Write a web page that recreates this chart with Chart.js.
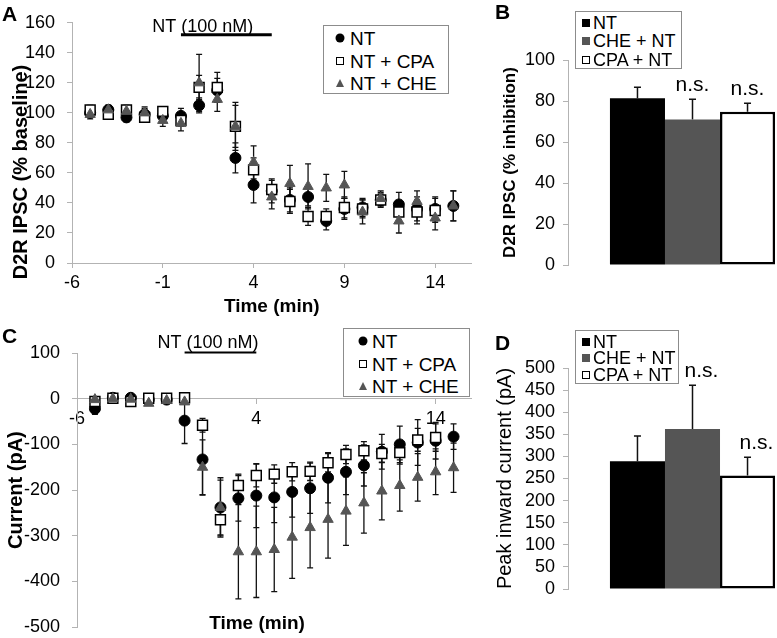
<!DOCTYPE html>
<html>
<head>
<meta charset="utf-8">
<script src="https://cdn.jsdelivr.net/npm/chart.js@4.4.1/dist/chart.umd.min.js"></script>
<style>
  html, body { margin: 0; padding: 0; background: #fff; }
  body { width: 777px; height: 638px; overflow: hidden; position: relative;
         font-family: "Liberation Sans", Arial, sans-serif; color: #000; }
  .panel { position: absolute; }
  .letter { position: absolute; font-weight: bold; font-size: 21px; line-height: 1; }
  .legend { position: absolute; border: 1px solid #8c8c8c; background: #fff; box-sizing: border-box; }
  .legend span { position: absolute; line-height: 1; white-space: nowrap; }
  .mk { transform: translate(-50%, -50%); box-sizing: border-box; }
  .txt { transform: translateY(-50%); }
  .dot { width: 9px; height: 9px; border-radius: 50%; background: #000; }
  .sqo { width: 8px; height: 8px; border: 1.3px solid #000; background: #fff; }
  .tri { width: 0; height: 0; border-left: 4.5px solid transparent; border-right: 4.5px solid transparent; border-bottom: 8px solid #555; }
  .sqk { width: 8px; height: 8px; background: #000; }
  .sqg { width: 8px; height: 8px; background: #555; }
  .sqw { width: 8px; height: 8px; border: 1.6px solid #000; background: #fff; }
  .title { position: absolute; font-weight: bold; font-size: 20px; white-space: nowrap; line-height: 1; }
</style>
</head>
<body>
<div class="panel" style="left:0;top:0;width:480px;height:320px"><canvas id="chartA"></canvas></div>
<div class="panel" style="left:440px;top:0;width:377px;height:300px"><canvas id="chartB"></canvas></div>
<div class="panel" style="left:0;top:320px;width:480px;height:330px"><canvas id="chartC"></canvas></div>
<div class="panel" style="left:440px;top:320px;width:377px;height:318px"><canvas id="chartD"></canvas></div>

<div class="letter" style="left:2px;top:3px">A</div>
<div class="letter" style="left:495px;top:1px">B</div>
<div class="letter" style="left:2px;top:325px">C</div>
<div class="letter" style="left:495px;top:332px">D</div>

<div class="title" style="left:20px;top:172px;transform:translate(-50%,-50%) rotate(-90deg)">D2R IPSC (% baseline)</div>
<div class="title" style="left:257px;top:622px;transform:translate(-50%,-50%);font-size:19px">Time (min)</div>

<div id="legA" class="legend" style="left:323px;top:25px;width:126px;height:69px"></div>
<div id="legB" class="legend" style="left:575px;top:11px;width:107px;height:58px"></div>
<div id="legC" class="legend" style="left:343px;top:328px;width:127px;height:69px"></div>
<div id="legD" class="legend" style="left:575px;top:330px;width:104px;height:54px"></div>

<script>
//  data
const timeAll = [-5, -4, -3, -2, -1, 0, 1, 2, 3, 4, 5, 6, 7, 8, 9, 10, 11, 12, 13, 14, 15];
const timeTicksA = [-6, -1, 4, 9, 14];
const timeTicksC = [-6, 4, 14];
const seriesNames = ['NT', 'NT + CPA', 'NT + CHE'];
const barNames = ['NT', 'CHE + NT', 'CPA + NT'];

// panel A, D2R IPSC (% baseline)
const ipscNT     = [100, 102, 97, 99, 98, 98, 105, 115, 70, 52, 48, 42, 44, 28, 36, 37, 42, 39, 36, 36, 38];
const ipscNTerr  = [3, 3, 3, 4, 4, 5, 5, 8, 10, 12, 8, 8, 6, 6, 7, 6, 4, 8, 8, 8, 10];
const ipscCPA    = [102, 99, 102, 97, 101, 95, 117, 117, 91, 62, 49, 41, 31, 31, 37, 36, 42, 34, 34, 35];
const ipscCPAerr = [3, 3, 3, 3, 3, 4, 8, 10, 16, 8, 6, 8, 6, 5, 7, 6, 5, 7, 8, 8];
const ipscCHE    = [99, 102, 101, 100, 95, 93, 120, 109, 91, 67, 44, 53, 51, 50, 52, 34, 43, 28, 41, 30, 38];
const ipscCHEerr = [3, 3, 3, 4, 4, 5, 19, 8, 14, 11, 8, 12, 15, 9, 9, 8, 5, 8, 7, 8, 10];

// panel C, current (pA)
const currNT     = [-22, 2, 2, -2, -2, -48, -133, -238, -218, -212, -216, -204, -196, -173, -160, -146, -116, -100, -96, -92, -83];
const currNTerr  = [12, 3, 3, 3, 3, 50, 78, 60, 50, 70, 55, 55, 55, 55, 50, 45, 38, 40, 50, 40, 28];
const currCPA    = [-6, 1, -6, 1, 1, 2, -58, -265, -190, -168, -165, -160, -159, -140, -122, -114, -120, -118, -90, -85];
const currCPAerr = [5, 3, 3, 3, 3, 3, 15, 35, 25, 25, 20, 20, 20, 20, 20, 20, 20, 25, 25, 30];
const currCHE    = [-2, 0, -1, -10, -4, -7, -150, -238, -335, -335, -330, -303, -282, -264, -246, -228, -202, -190, -172, -160, -151];
const currCHEerr = [5, 3, 3, 3, 3, 5, 60, 65, 103, 100, 92, 90, 88, 85, 75, 66, 63, 56, 52, 50, 54];

// panels B and D
const inhibMean = [81.3, 71, 74.8];
const inhibErr  = [5.4, 9.8, 4.1];
const peakMean  = [289, 362, 257];
const peakErr   = [57, 99, 41];
const sigLabels = ['', 'n.s.', 'n.s.'];
//  data

const font_family = '"Liberation Sans", Arial, sans-serif';
Chart.defaults.font.family = font_family;
Chart.defaults.color = '#000';
Chart.defaults.animation = false;
const axis_grey = '#b3b3b3';

// error bars from the dataset's errorBars array
const errorBarPlugin = {
  id: 'errorBars',
  beforeDatasetsDraw(chart) {
    const ctx = chart.ctx;
    const yScale = chart.scales.y;
    ctx.save();
    ctx.strokeStyle = '#111';
    chart.data.datasets.forEach((ds, i) => {
      if (!ds.errorBars) return;
      const meta = chart.getDatasetMeta(i);
      ctx.lineWidth = ds.errWidth || 1.3;
      meta.data.forEach((el, j) => {
        const raw = ds.data[j];
        const v = typeof raw === 'object' ? raw.y : raw;
        const e = ds.errorBars[j];
        const cap = ds.capHalf || 3;
        const top = yScale.getPixelForValue(v + e);
        const bot = ds.upOnly ? el.y : yScale.getPixelForValue(v - e);
        ctx.beginPath();
        ctx.moveTo(el.x, top);
        ctx.lineTo(el.x, bot);
        ctx.moveTo(el.x - cap, top);
        ctx.lineTo(el.x + cap, top);
        if (!ds.upOnly) {
          ctx.moveTo(el.x - cap, bot);
          ctx.lineTo(el.x + cap, bot);
        }
        ctx.stroke();
      });
    });
    ctx.restore();
  }
};

// "n.s." above the error bar of a bar
const sigPlugin = {
  id: 'sigLabels',
  afterDatasetsDraw(chart, args, opts) {
    const ctx = chart.ctx;
    const yScale = chart.scales.y;
    const dx = opts.dx || 0;
    ctx.save();
    ctx.font = '21px ' + font_family;
    ctx.fillStyle = '#000';
    ctx.textAlign = 'center';
    ctx.textBaseline = 'alphabetic';
    chart.data.datasets.forEach((ds, i) => {
      if (!ds.sig) return;
      const el = chart.getDatasetMeta(i).data[0];
      const top = yScale.getPixelForValue(ds.data[0] + ds.errorBars[0]);
      ctx.fillText(ds.sig, el.x + dx, top - 8);
    });
    ctx.restore();
  }
};

// drug application bar with its label
const drugLinePlugin = {
  id: 'drugLine',
  afterDraw(chart, args, opts) {
    const ctx = chart.ctx;
    const x = chart.scales.x;
    const y = chart.scales.y;
    const py = y.getPixelForValue(opts.level);
    ctx.save();
    ctx.strokeStyle = '#000';
    ctx.lineWidth = opts.lineWidth;
    ctx.beginPath();
    ctx.moveTo(x.getPixelForValue(opts.from), py);
    ctx.lineTo(x.getPixelForValue(opts.to), py);
    ctx.stroke();
    ctx.font = '18px ' + font_family;
    ctx.fillStyle = '#000';
    ctx.textAlign = 'center';
    ctx.textBaseline = 'middle';
    ctx.fillText(opts.text, x.getPixelForValue(opts.textAt), py - opts.gap);
    ctx.restore();
  }
};

function toPoints(xs, ys) {
  return ys.map((v, i) => ({x: xs[i], y: v}));
}

function scatterSets(nt, ntErr, cpa, cpaErr, che, cheErr) {
  return [
    {label: seriesNames[0], data: toPoints(timeAll, nt), errorBars: ntErr, order: 3,
     pointStyle: 'circle', pointRadius: 5.5, backgroundColor: '#000', borderColor: '#000', borderWidth: 1},
    {label: seriesNames[1], data: toPoints(timeAll, cpa), errorBars: cpaErr, order: 2,
     pointStyle: 'rect', pointRadius: 7, backgroundColor: '#fff', borderColor: '#000', borderWidth: 1.5},
    {label: seriesNames[2], data: toPoints(timeAll, che), errorBars: cheErr, order: 1,
     pointStyle: 'triangle', pointRadius: 6, backgroundColor: '#555', borderColor: '#555', borderWidth: 1}
  ];
}

function barSets(means, errs) {
  const fills = ['#000', '#555', '#fff'];
  return barNames.map((name, i) => ({
    label: name,
    data: [means[i]],
    errorBars: [errs[i]],
    upOnly: true,
    capHalf: 3.5,
    errWidth: 1.5,
    sig: sigLabels[i],
    backgroundColor: fills[i],
    borderColor: '#000',
    borderWidth: i === 2 ? 2.5 : 0,
    borderSkipped: false,
    categoryPercentage: 0.663,
    barPercentage: 1
  }));
}

function axisLook() {
  return {
    border: {color: axis_grey, width: 1},
    grid: {drawOnChartArea: false, drawTicks: true, tickLength: 5, color: axis_grey}
  };
}

// A
new Chart(document.getElementById('chartA'), {
  type: 'scatter',
  data: {datasets: scatterSets(ipscNT, ipscNTerr, ipscCPA, ipscCPAerr, ipscCHE, ipscCHEerr)},
  options: {
    responsive: true, maintainAspectRatio: false, events: [],
    layout: {padding: {top: 21, right: 3, left: 0, bottom: 0}},
    plugins: {legend: {display: false}, tooltip: {enabled: false},
      drugLine: {from: 0, to: 5, level: 152, text: 'NT (100 nM)', textAt: 1.2, lineWidth: 3, gap: 8}},
    scales: {
      x: Object.assign(axisLook(), {
        type: 'linear', min: -6, max: 16,
        afterBuildTicks: s => { s.ticks = timeTicksA.map(v => ({value: v})); },
        afterFit: s => { s.height = 57; },
        ticks: {font: {size: 18}, padding: 4, maxRotation: 0, autoSkip: false},
        title: {display: true, text: 'Time (min)', font: {size: 19, weight: 'bold'}, padding: {top: 0, bottom: 2}}
      }),
      y: Object.assign(axisLook(), {
        min: 0, max: 160,
        afterFit: s => { s.width = 72; },
        ticks: {stepSize: 20, font: {size: 18}, padding: 12, autoSkip: false}
      })
    }
  },
  plugins: [errorBarPlugin, drugLinePlugin]
});

// C
new Chart(document.getElementById('chartC'), {
  type: 'scatter',
  data: {datasets: scatterSets(currNT, currNTerr, currCPA, currCPAerr, currCHE, currCHEerr)},
  options: {
    responsive: true, maintainAspectRatio: false, events: [],
    layout: {padding: {top: 33, right: 7, left: 0, bottom: 21}},
    plugins: {legend: {display: false}, tooltip: {enabled: false},
      drugLine: {from: 0, to: 4, level: 101, text: 'NT (100 nM)', textAt: 1.3, lineWidth: 2, gap: 10}},
    scales: {
      x: Object.assign(axisLook(), {
        type: 'linear', min: -6, max: 16, position: {y: 0},
        afterBuildTicks: s => { s.ticks = timeTicksC.map(v => ({value: v})); },
        afterFit: s => { s.height = 0; },
        ticks: {font: {size: 18}, padding: 5, maxRotation: 0, autoSkip: false}
      }),
      y: Object.assign(axisLook(), {
        min: -500, max: 100,
        afterFit: s => { s.width = 77; },
        ticks: {stepSize: 100, font: {size: 18}, padding: 12, autoSkip: false},
        title: {display: true, text: 'Current (pA)', font: {size: 20, weight: 'bold'}, padding: {top: 4}}
      })
    }
  },
  plugins: [errorBarPlugin, drugLinePlugin]
});

// B
new Chart(document.getElementById('chartB'), {
  type: 'bar',
  data: {labels: [''], datasets: barSets(inhibMean, inhibErr)},
  options: {
    responsive: true, maintainAspectRatio: false, events: [],
    layout: {padding: {top: 60, right: 0, left: 0, bottom: 35}},
    plugins: {legend: {display: false}, tooltip: {enabled: false}, sigLabels: {dx: 0}},
    scales: {
      x: {display: false},
      y: Object.assign(axisLook(), {
        min: 0, max: 100,
        afterFit: s => { s.width = 128; },
        ticks: {stepSize: 20, font: {size: 18}, padding: 8, autoSkip: false},
        title: {display: true, text: 'D2R IPSC (% inhibition)', font: {size: 17, weight: 'bold'}, padding: {top: 60}}
      })
    }
  },
  plugins: [errorBarPlugin, sigPlugin]
});

// D
new Chart(document.getElementById('chartD'), {
  type: 'bar',
  data: {labels: [''], datasets: barSets(peakMean, peakErr)},
  options: {
    responsive: true, maintainAspectRatio: false, events: [],
    layout: {padding: {top: 48, right: 0, left: 0, bottom: 49}},
    plugins: {legend: {display: false}, tooltip: {enabled: false}, sigLabels: {dx: 9}},
    scales: {
      x: {display: false},
      y: Object.assign(axisLook(), {
        min: 0, max: 500,
        afterFit: s => { s.width = 128; },
        ticks: {stepSize: 50, font: {size: 18}, padding: 8, autoSkip: false},
        title: {display: true, text: 'Peak inward current (pA)', font: {size: 20}, padding: {top: 53}}
      })
    }
  },
  plugins: [errorBarPlugin, sigPlugin]
});

//  legends
function makeLegend(id, names, marks, rowYs, markX, textX, fontSize) {
  const box = document.getElementById(id);
  names.forEach((name, i) => {
    const mk = document.createElement('span');
    mk.className = 'mk ' + marks[i];
    mk.style.left = markX + 'px';
    mk.style.top = rowYs[i] + 'px';
    box.appendChild(mk);
    const txt = document.createElement('span');
    txt.className = 'txt';
    txt.style.left = textX + 'px';
    txt.style.top = rowYs[i] + 'px';
    txt.style.fontSize = fontSize + 'px';
    txt.textContent = name;
    box.appendChild(txt);
  });
}
makeLegend('legA', seriesNames, ['dot', 'sqo', 'tri'], [12, 35, 57], 16, 26, 19);
makeLegend('legC', seriesNames, ['dot', 'sqo', 'tri'], [12, 35, 57], 19, 28, 19);
makeLegend('legB', barNames, ['sqk', 'sqg', 'sqw'], [11, 29, 48], 10, 17, 18);
makeLegend('legD', barNames, ['sqk', 'sqg', 'sqw'], [11, 27, 44], 10, 17, 18);
</script>
</body>
</html>
